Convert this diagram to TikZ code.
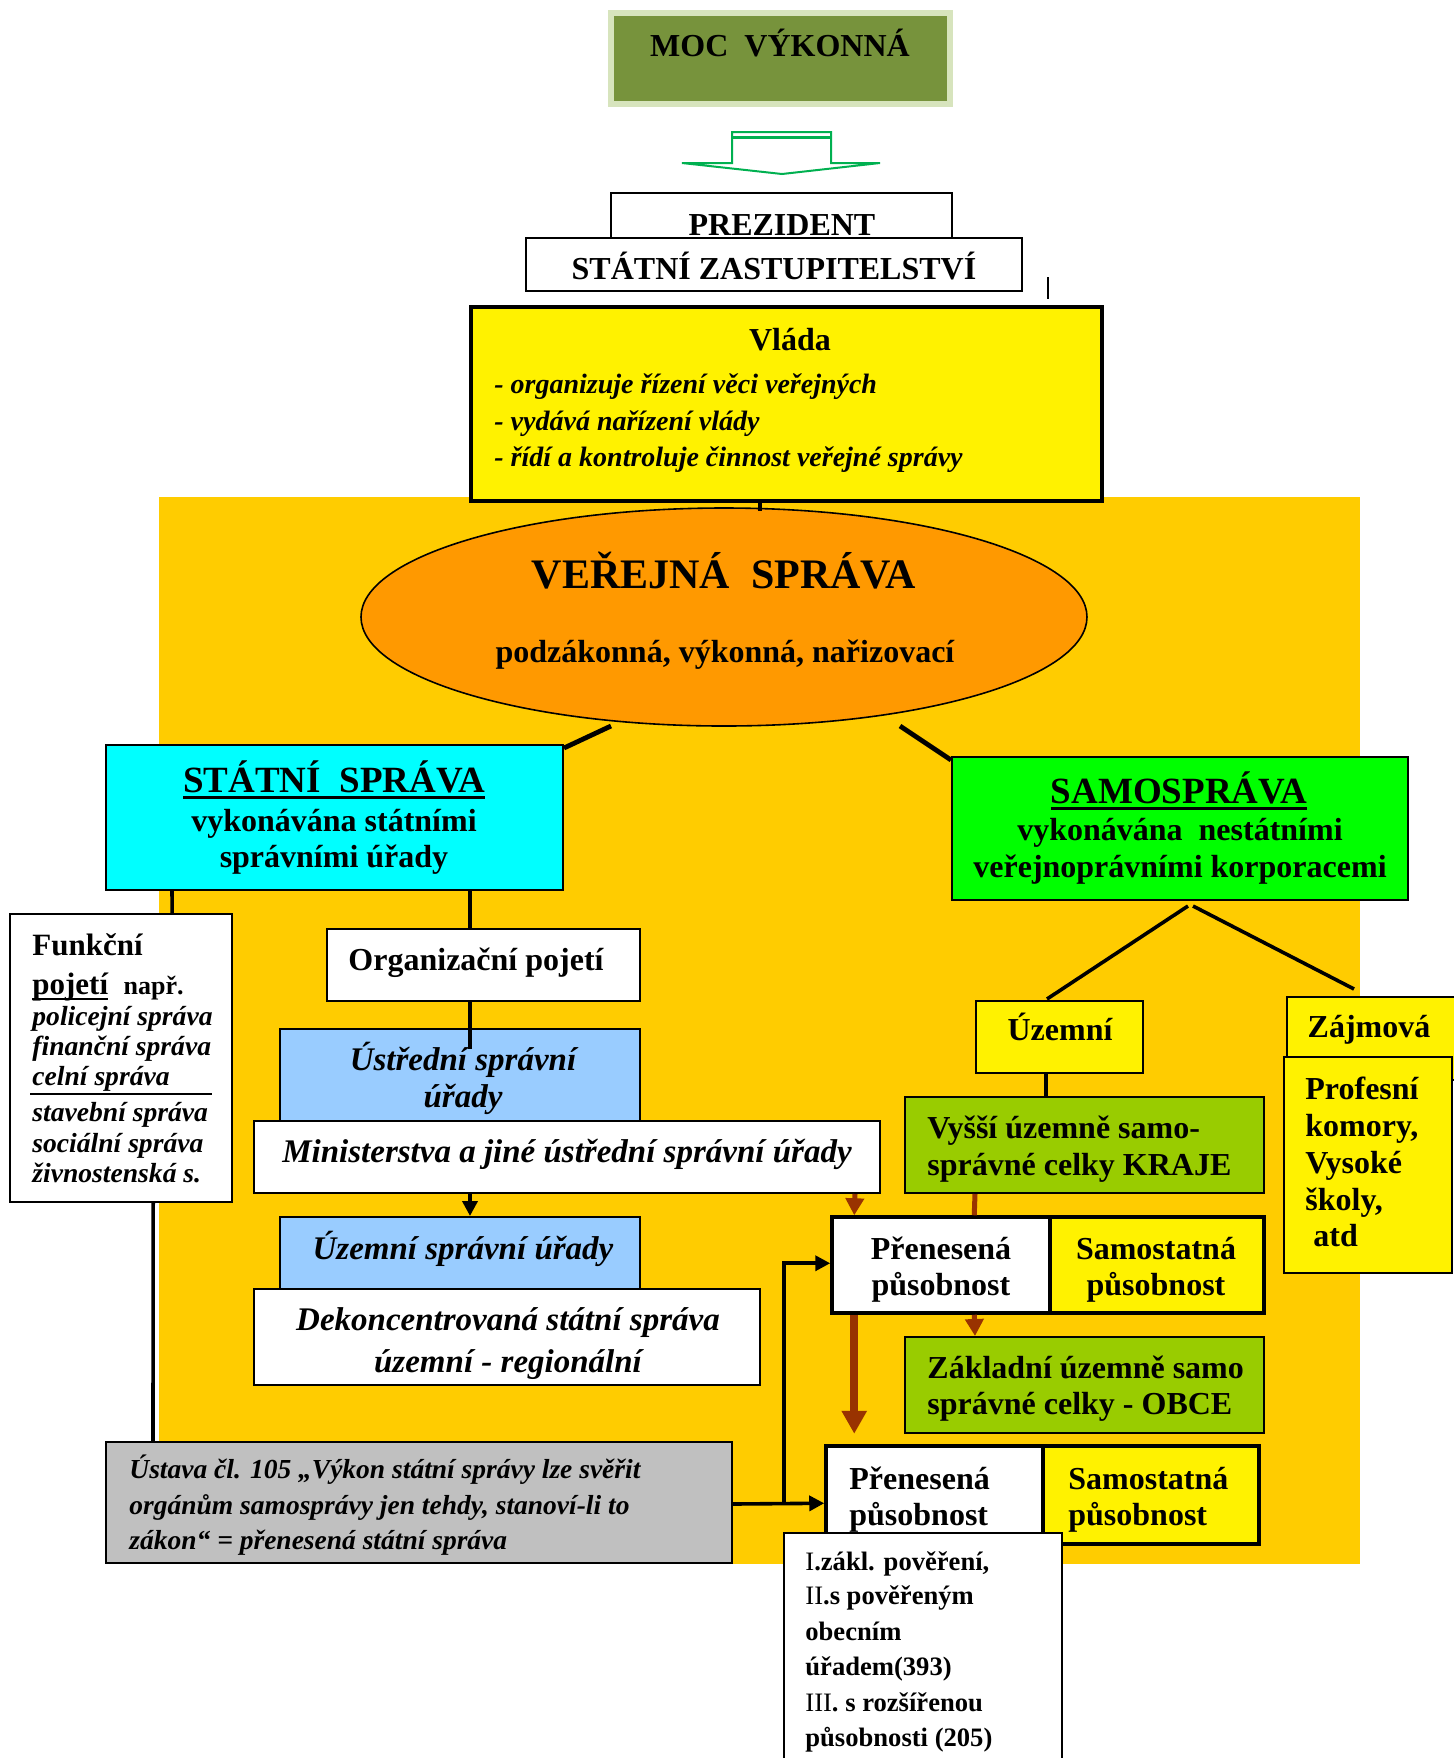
\documentclass[tikz,border=0pt]{standalone}
\usepackage{fontspec}
\setmainfont{Liberation Serif}
\usetikzlibrary{arrows.meta,shapes.geometric,fit,calc}

\definecolor{mocgreen}{HTML}{77933C}
\definecolor{moclight}{HTML}{D7E4BD}
\definecolor{arrowgreen}{HTML}{00B050}
\definecolor{bgorange}{HTML}{FFCC00}
\definecolor{ellorange}{HTML}{FF9900}
\definecolor{statecyan}{HTML}{00FFFF}
\definecolor{selfgreen}{HTML}{00FF00}
\definecolor{officeblue}{HTML}{99CCFF}
\definecolor{olivebox}{HTML}{99CC00}
\definecolor{lawgray}{HTML}{C0C0C0}
\definecolor{linkbrown}{HTML}{993300}

\newsavebox{\ulbox}
\newcommand{\thickul}[1]{\sbox{\ulbox}{#1}\rlap{\rule[-0.2em]{\wd\ulbox}{0.08em}}\usebox{\ulbox}}

\tikzset{
  box/.style={draw, line width=1pt, inner sep=0pt},
  heavybox/.style={box, line width=1.75pt},
  hd/.style={font=\fontsize{16}{18.5}\selectfont\bfseries, inner sep=0pt},
  big/.style={font=\fontsize{18.5}{21}\selectfont\bfseries, inner sep=0pt},
  ihd/.style={font=\fontsize{16.5}{19}\selectfont\bfseries\itshape, inner sep=0pt},
  note/.style={font=\fontsize{14}{16}\selectfont\bfseries\itshape, inner sep=0pt},
  law/.style={font=\fontsize{13.75}{16}\selectfont\bfseries\itshape, inner sep=0pt},
  conn/.style={line width=1.8pt},
  blackarrow/.style={conn, -{Triangle[length=7.5pt,width=7.5pt]}},
  brownline/.style={draw=linkbrown, line width=2.5pt},
  brownarrow/.style={brownline, -{Triangle[length=8.5pt,width=9pt]}},
}

\begin{document}
\begin{tikzpicture}[x=0.5pt, y=-0.5pt]
\useasboundingbox (0,0) rectangle (1454,1758);

% background of public administration
\fill[bgorange] (159,497) rectangle (1360,1564);

% executive power and top
\node[fill=mocgreen, draw=moclight, line width=3pt, inner sep=0pt, fit={(611,13) (950,104)}] (moc) {};
\node[hd, anchor=base] (moct) at (780,56) {MOC\ \ VÝKONNÁ};
\draw[arrowgreen, line width=1pt] (732,163) -- (732,132) -- (831,132) -- (831,163) -- (880,163) -- (782,174) -- (682,163) -- cycle;
\draw[arrowgreen, line width=1.5pt] (732,137) -- (831,137);

\node[box, fill=white, fit={(611,193) (952,240)}] (prez) {};
\node[hd, anchor=base] (prezt) at (782,235) {PREZIDENT};
\node[box, fill=white, fit={(526,238) (1022,291)}] (zast) {};
\node[hd, anchor=base] (zastt) at (774,279) {STÁTNÍ ZASTUPITELSTVÍ};
\draw[line width=0.7pt] ($(zast.north east)+(25,40)$) -- ++(0,22);

\node[heavybox, fill=yellow, fit={(471,307) (1102,501)}] (vlada) {};
\node[hd, anchor=base] (vladat) at (790,350) {Vláda};
\foreach \t/\y [count=\i] in {{- organizuje řízení věci veřejných}/393, {- vydává nařízení vlády}/430, {- řídí a kontroluje činnost veřejné správy}/466}
  \node[note, anchor=base west] (vl\i) at (494,\y) {\t};

% public administration
\node[ellipse, draw, line width=0.8pt, fill=ellorange, minimum width=363pt, minimum height=109pt, inner sep=0pt] (vs) at (724,617) {};
\node[font=\fontsize{21}{24}\selectfont\bfseries, inner sep=0pt, anchor=base] (vst) at (724,588) {VEŘEJNÁ\ \ SPRÁVA};
\node[hd, anchor=base] (vss) at (725,662) {podzákonná, výkonná, nařizovací};

\node[box, fill=statecyan, fit={(106,745) (563,890)}] (ss) {};
\node[big, anchor=base] (sst) at (334,792) {\thickul{STÁTNÍ\ \ SPRÁVA}};
\node[hd, anchor=base] (ss1) at (334,831) {vykonávána státními};
\node[hd, anchor=base] (ss2) at (334,867) {správními úřady};

\node[box, fill=selfgreen, fit={(952,757) (1408,900)}] (sam) {};
\node[big, anchor=base] (samt) at (1179,803) {\thickul{SAMOSPRÁVA}};
\node[hd, anchor=base] (sam1) at (1180,840) {vykonávána\ \ nestátními};
\node[hd, anchor=base] (sam2) at (1180,877) {veřejnoprávními korporacemi};

% state administration
\node[box, line width=0.8pt, fill=white, fit={(10,914) (232,1202)}] (fp) {};
\node[font=\fontsize{15.5}{18}\selectfont\bfseries, inner sep=0pt, anchor=base west] (fp1) at (32,955) {Funkční};
\node[font=\fontsize{15.5}{18}\selectfont\bfseries, inner sep=0pt, anchor=base west] (fp2) at (32,994) {\thickul{pojetí}\ \ {\fontsize{13}{15}\selectfont např.}};
\foreach \t/\y [count=\i] in {policejní správa/1025, finanční správa/1055, celní správa/1085, stavební správa/1121, sociální správa/1152, živnostenská s./1182}
  \node[note, font=\fontsize{13.8}{16}\selectfont\bfseries\itshape, anchor=base west] (fl\i) at (32,\y) {\t};
\draw[line width=1pt] (30,1094) -- (212,1094);

\node[box, fill=white, fit={(327,929) (640,1001)}] (org) {};
\node[hd, anchor=base] (orgt) at (476,970) {Organizační pojetí};

\node[box, fill=officeblue, fit={(280,1029) (640,1125)}] (ustr) {};
\node[ihd, anchor=base] (ustr1) at (463,1070) {Ústřední správní};
\node[ihd, anchor=base] (ustr2) at (463,1107) {úřady};
\node[box, fill=white, fit={(254,1121) (880,1193)}] (min) {};
\node[ihd, anchor=base] (mint) at (567,1162) {Ministerstva a jiné ústřední správní úřady};

\node[box, fill=officeblue, fit={(280,1217) (640,1292)}] (uzs) {};
\node[ihd, anchor=base] (uzst) at (463,1259) {Územní správní úřady};
\node[box, fill=white, fit={(254,1289) (760,1385)}] (dek) {};
\node[ihd, anchor=base] (dek1) at (508,1330) {Dekoncentrovaná státní správa};
\node[ihd, anchor=base] (dek2) at (508,1372) {územní - regionální};

% self-government
\node[box, fill=yellow, fit={(976,1001) (1143,1073)}] (uz) {};
\node[hd, anchor=base] (uzt) at (1060,1040) {Územní};
\node[box, fill=yellow, fit={(1287,997) (1460,1080)}] (zaj) {};
\node[hd, anchor=base] (zajt) at (1369,1037) {Zájmová};
\node[box, fill=yellow, fit={(1284,1057) (1452,1273)}] (prof) {};
\foreach \t/\y [count=\i] in {Profesní/1099, {komory,}/1136, Vysoké/1173, {školy,}/1210, {\ atd}/1246}
  \node[hd, anchor=base west] (prof\i) at (1305,\y) {\t};

\node[box, fill=olivebox, fit={(905,1097) (1264,1193)}] (vy) {};
\node[hd, anchor=base west] (vy1) at (927,1138) {Vyšší územně samo-};
\node[hd, anchor=base west] (vy2) at (927,1175) {správné celky KRAJE};

\node[heavybox, fill=white, fit={(832,1217) (1050,1313)}] (pr1) {};
\node[heavybox, fill=yellow, fit={(1050,1217) (1264,1313)}] (sa1) {};
\node[hd, anchor=base] (pr1a) at (941,1259) {Přenesená};
\node[hd, anchor=base] (pr1b) at (941,1295) {působnost};
\node[hd, anchor=base] (sa1a) at (1156,1259) {Samostatná};
\node[hd, anchor=base] (sa1b) at (1156,1295) {působnost};

\node[box, fill=olivebox, fit={(905,1337) (1264,1433)}] (zak) {};
\node[hd, anchor=base west] (zak1) at (927,1378) {Základní územně samo};
\node[hd, anchor=base west] (zak2) at (927,1414) {správné celky - OBCE};

\node[heavybox, fill=white, fit={(826,1446) (1043,1544)}] (pr2) {};
\node[heavybox, fill=yellow, fit={(1043,1446) (1259,1544)}] (sa2) {};
\node[hd, anchor=base west] (pr2a) at (849,1489) {Přenesená};
\node[hd, anchor=base west] (pr2b) at (849,1525) {působnost};
\node[hd, anchor=base west] (sa2a) at (1068,1489) {Samostatná};
\node[hd, anchor=base west] (sa2b) at (1068,1525) {působnost};

% constitution note and municipality kinds
\node[box, fill=lawgray, fit={(106,1442) (732,1563)}] (ust) {};
\foreach \t/\y [count=\i] in {{Ústava čl. 105 „Výkon státní správy lze svěřit}/1478, {orgánům samosprávy jen tehdy, stanoví-li to}/1514, {zákon“ = přenesená státní správa}/1549}
  \node[law, anchor=base west] (ust\i) at (129,\y) {\t};

\node[box, line width=0.8pt, fill=white, fit={(784,1533) (1062,1764)}] (kat) {};
\foreach \t/\y [count=\i] in {{{\mdseries I}.zákl. pověření,}/1570, {{\mdseries II}.s pověřeným}/1604, obecním/1640, úřadem(393)/1675, {{\mdseries III}. s rozšířenou}/1711, {působnosti (205)}/1746}
  \node[font=\fontsize{13.3}{16}\selectfont\bfseries, inner sep=0pt, anchor=base west] (kat\i) at (805,\y) {\t};

% connectors
\draw[conn] ($(vlada.south west)+(291,0)$) -- ++(0,8);
\draw[conn, line width=2.4pt] ($(vs.center)+(-113,109)$) -- ($(ss.north east)+(0,4)$);
\draw[conn, line width=2.4pt] ($(vs.center)+(176,109)$) -- ($(sam.north west)+(0,4)$);
\draw[conn] ($(ss.south west)+(67,0)$) -- ($(fp.north west)+(163,0)$);
\draw[conn] ($(fp.south west)+(144,0)$) -- ($(ust.north west)+(48,0)$);
\draw[conn] ($(ss.south west)+(365,0)$) -- ($(org.north west)+(144,0)$);
\draw[conn] ($(org.south west)+(144,0)$) -- ++(0,47);
\draw[blackarrow] ($(min.south west)+(217,0)$) -- ($(uzs.north west)+(191,0)$);
\draw[brownarrow] ($(min.south west)+(602,0)$) -- ($(pr1.north west)+(24,0)$);
\draw[brownline] ($(vy.south west)+(71,0)$) -- ($(pr1.north west)+(144,0)$);
\draw[brownarrow] ($(pr1.south west)+(144,0)$) -- ($(zak.north west)+(71,0)$);
\draw[brownline, line width=4pt, -{Triangle[length=11.5pt,width=12pt]}] ($(pr1.south west)+(24,0)$) -- ++(0,119);
\draw[conn] ($(uz.south west)+(71,0)$) -- ($(vy.north west)+(142,0)$);
\draw[conn] ($(sam.south)+(8,5)$) -- ($(uz.north west)+(72,-1)$);
\draw[conn] ($(sam.south)+(13,5)$) -- ($(zaj.north west)+(68,-7)$);
\draw[blackarrow] ($(ust.north east)+(0,63)$) -- ($(pr2.north west)+(0,59)$);
\draw[blackarrow] ($(ust.north east)+(51,63)$) |- ($(pr1.north west)+(0,48)$);
\end{tikzpicture}
\end{document}
